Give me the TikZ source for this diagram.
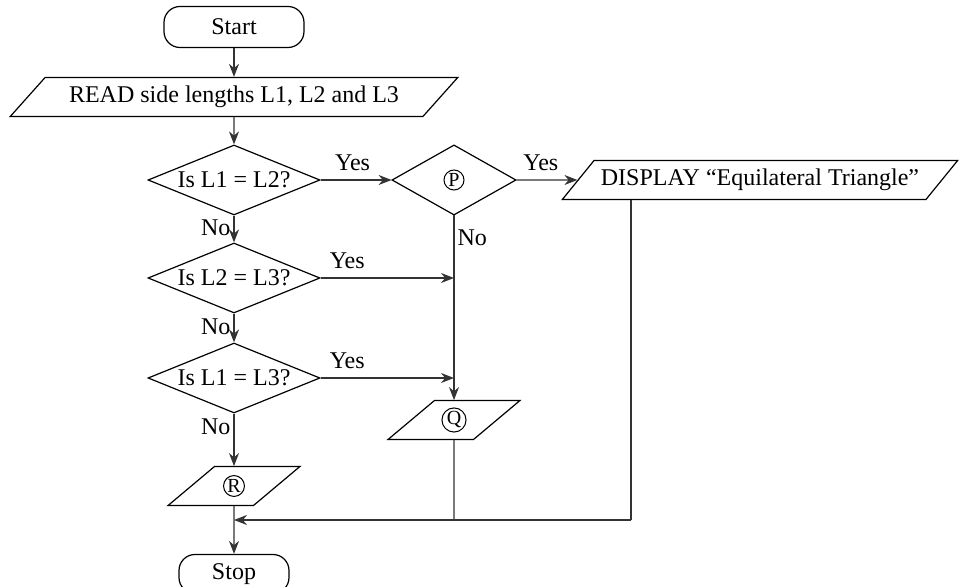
\documentclass[tikz,border=0pt]{standalone}
\usepackage{fontspec}
\setmainfont{Liberation Serif}
\usetikzlibrary{arrows.meta,shapes.geometric,positioning}

% small ringed letter used inside the boxes
\newcommand{\ringed}[1]{\tikz[baseline=(ltr.base)]\node[draw,circle,inner sep=0.4pt,minimum size=10pt,line width=0.5pt,font=\fontsize{10}{10}\selectfont] (ltr) {#1};}

\begin{document}
\begin{tikzpicture}[x=0.5pt,y=-0.5pt,
  font=\fontsize{12}{14}\selectfont,
  line width=0.6pt,
  term/.style={draw,rectangle,rounded corners=8pt,minimum height=20.5pt,inner sep=2pt},
  io/.style={draw,trapezium,trapezium left angle=40,trapezium right angle=140,
    trapezium stretches=true,minimum height=19.5pt,inner sep=1pt},
  decision/.style={draw,diamond,aspect=2.4,inner sep=1pt,minimum width=86pt,minimum height=35pt},
  flow/.style={-{Stealth[length=6.5pt,width=5pt]},draw=black!80},
  lbl/.style={inner sep=1.5pt}]
\useasboundingbox (0,0) rectangle (960,587);

\node[term,minimum width=70pt] (start) at (234,27) {Start};
\node[io,minimum width=224pt] (read) at (234,97) {READ side lengths L1, L2 and L3};
\node[decision] (d1) at (234,180) {Is L1 = L2?};
\node[decision,minimum width=62pt,aspect=1.8] (pdec) at (454,180) {\ringed{P}};
\node[io,minimum width=198pt] (show) at (760,180) {DISPLAY “Equilateral Triangle”};
\node[decision] (d2) at (234,278) {Is L2 = L3?};
\node[decision] (d3) at (234,378) {Is L1 = L3?};
\node[io,minimum width=66pt] (qbox) at (454,420) {\ringed{Q}};
\node[io,minimum width=66pt] (rbox) at (234,486) {\ringed{R}};
\node[term,minimum width=55pt,minimum height=19.5pt] (stop) at (234,574) {Stop};

% main column
\draw[flow] (start) -- (read);
\draw[flow] (read) -- (d1);
\draw[flow] (d1) -- node[lbl,left,pos=.45] {No} (d2);
\draw[flow] (d2) -- node[lbl,left,pos=.45] {No} (d3);
\draw[flow] (d3) -- node[lbl,left,pos=.25] {No} (rbox);
\draw[flow] (rbox) -- (stop);

% yes branches
\draw[flow] (d1) -- node[lbl,above=3pt,pos=.45] {Yes} (pdec);
\draw[flow] (pdec) -- node[lbl,above=3pt,pos=.4] {Yes} (show);
\coordinate (j2) at (d2.east -| pdec.south);
\coordinate (j3) at (d3.east -| pdec.south);
\draw[flow] (d2) -- node[lbl,above=3pt,pos=.2] {Yes} (j2);
\draw[flow] (d3) -- node[lbl,above=3pt,pos=.2] {Yes} (j3);
\draw[flow] (pdec) -- node[lbl,right,pos=.12] {No} (qbox);

% back to stop
\coordinate (merge) at (631,520);
\draw[draw=black!80] (merge |- show.south) -- (merge);
\draw[draw=black!80] (qbox) -- (qbox.south |- merge);
\draw[flow] (merge) -- (rbox.south |- merge);
\end{tikzpicture}
\end{document}
